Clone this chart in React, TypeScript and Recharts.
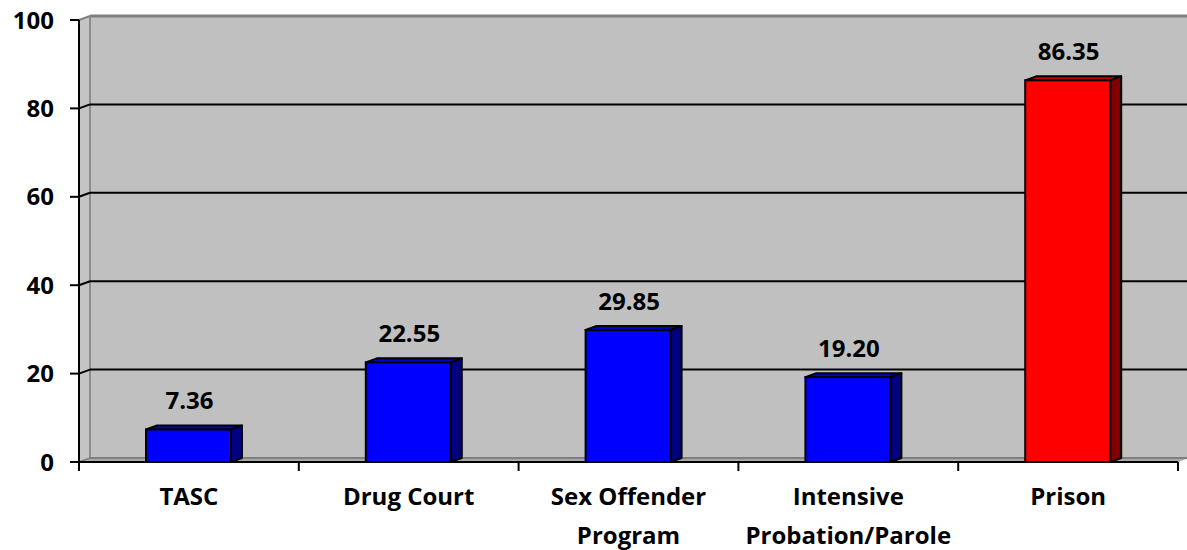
import React from 'react';
import { BarChart, Bar, XAxis, YAxis, CartesianGrid, LabelList } from 'recharts';

const categories = ['TASC', 'Drug Court', 'Sex Offender\nProgram', 'Intensive\nProbation/Parole', 'Prison'];
const values = [7.36, 22.55, 29.85, 19.2, 86.35];
const yTicks = [0, 20, 40, 60, 80, 100];

const frontColors = ['#0000FF', '#0000FF', '#0000FF', '#0000FF', '#FF0000'];
const sideColors = ['#000080', '#000080', '#000080', '#000080', '#800000'];
const topColors = ['#0000C8', '#0000C8', '#0000C8', '#0000C8', '#C00000'];

const data = categories.map((name, i) => ({ name, value: values[i] }));

const DX = 11;
const DY = 4;
const FONT = '"Open Sans", Lato, "Liberation Sans", sans-serif';
const FS = 24;

const Bar3D = (p: any) => {
  const { x, y, width: w, height: h, index } = p;
  const i = index ?? 0;
  return (
    <g>
      <polygon
        points={`${x},${y} ${x + DX},${y - DY} ${x + w + DX},${y - DY} ${x + w},${y}`}
        fill={topColors[i]}
        stroke="#000"
        strokeWidth={2}
        strokeLinejoin="round"
      />
      <polygon
        points={`${x + w},${y} ${x + w + DX},${y - DY} ${x + w + DX},${y + h - DY} ${x + w},${y + h}`}
        fill={sideColors[i]}
        stroke="#000"
        strokeWidth={2}
        strokeLinejoin="round"
      />
      <rect x={x} y={y} width={w} height={h} fill={frontColors[i]} stroke="#000" strokeWidth={2} />
    </g>
  );
};

const WallShape = (p: any) => {
  const { x1, y1, x2, index } = p;
  const top = p.y;
  const bottom = p.y + p.height;
  const isFirst = top !== undefined ? Math.abs(y1 - top) < 0.5 : index === 0;
  if (!isFirst) return <g key={p.key} />;
  const t = top ?? y1;
  const b = bottom ?? y1 + 442;
  return (
    <g key={p.key}>
      <rect x={x1 + DX} y={t - DY} width={x2 - x1 + 2} height={b - t} fill="#C0C0C0" />
      <polygon points={`${x1},${t} ${x1 + DX},${t - DY} ${x1 + DX},${b - DY} ${x1},${b}`} fill="#C4C4C4" />
      <line x1={x1 + DX} y1={t - DY} x2={x1 + DX} y2={b - DY} stroke="#8C8C8C" strokeWidth={2} />
    </g>
  );
};

const GridShape = (p: any) => {
  const { x1, y1, x2 } = p;
  const top = p.y;
  const bottom = p.y + p.height;
  if (Math.abs(y1 - bottom) < 0.5) {
    return (
      <g key={p.key}>
        <polygon points={`${x1},${y1} ${x1 + DX},${y1 - DY} ${x2 + DX},${y1 - DY} ${x2},${y1}`} fill="#A8A8A8" />
        <line x1={x1 + DX} y1={y1 - DY} x2={x2 + DX} y2={y1 - DY} stroke="#808080" strokeWidth={2} />
        <line x1={x1} y1={y1} x2={x1 + DX} y2={y1 - DY} stroke="#808080" strokeWidth={1.5} />
      </g>
    );
  }
  if (Math.abs(y1 - top) < 0.5) {
    return (
      <g key={p.key}>
        <line x1={x1 + DX} y1={y1 - DY} x2={x2 + DX} y2={y1 - DY} stroke="#808080" strokeWidth={3} />
        <line x1={x1} y1={y1} x2={x1 + DX} y2={y1 - DY} stroke="#808080" strokeWidth={2} />
      </g>
    );
  }
  return (
    <g key={p.key}>
      <line x1={x1 + DX} y1={y1 - DY} x2={x2 + DX} y2={y1 - DY} stroke="#000" strokeWidth={2} />
      <line x1={x1} y1={y1} x2={x1 + DX} y2={y1 - DY} stroke="#000" strokeWidth={2} />
    </g>
  );
};

const XTick = (p: any) => {
  const { x, y, payload, width } = p;
  const n = categories.length;
  const half = payload && payload.offset ? payload.offset : width / n / 2;
  const idx = payload.index ?? categories.indexOf(payload.value);
  const lines = String(payload.value).split('\n');
  return (
    <g>
      <line x1={x - half} y1={y} x2={x - half} y2={y + 9} stroke="#000" strokeWidth={2} />
      {idx === n - 1 && <line x1={x + half} y1={y} x2={x + half} y2={y + 9} stroke="#000" strokeWidth={2} />}
      <text x={x} y={y + 43} textAnchor="middle" fontFamily={FONT} fontSize={FS} fontWeight="bold" fill="#000">
        {lines.map((l, i) => (
          <tspan key={i} x={x} dy={i === 0 ? 0 : 39}>
            {l}
          </tspan>
        ))}
      </text>
    </g>
  );
};

const ValueLabel = (p: any) => {
  const { x, y, width, value } = p;
  return (
    <text
      x={x + width / 2 + 1}
      y={y - 20}
      textAnchor="middle"
      fontFamily={FONT}
      fontSize={FS}
      fontWeight="bold"
      fill="#000"
    >
      {Number(value).toFixed(2)}
    </text>
  );
};

export default function App() {
  return (
    <div style={{ position: 'absolute', left: 0, top: 0, width: 1187, height: 550, background: '#fff' }}>
      <BarChart
        width={1187}
        height={550}
        data={data}
        margin={{ top: 20, right: 9, bottom: 0, left: 0 }}
        barSize={85}
      >
        <CartesianGrid vertical={false} horizontal={WallShape} />
        <CartesianGrid vertical={false} horizontal={GridShape} />
        <XAxis
          dataKey="name"
          height={88}
          interval={0}
          tickLine={false}
          tickSize={0}
          tickMargin={0}
          axisLine={{ stroke: '#000', strokeWidth: 2 }}
          tick={<XTick />}
        />
        <YAxis
          width={79}
          domain={[0, 100]}
          ticks={yTicks}
          interval={0}
          tickSize={9}
          tickMargin={16}
          axisLine={{ stroke: '#000', strokeWidth: 2 }}
          tickLine={{ stroke: '#000', strokeWidth: 2 }}
          tick={{ fill: '#000', fontFamily: FONT, fontSize: FS, fontWeight: 'bold' }}
        />
        <Bar dataKey="value" isAnimationActive={false} shape={<Bar3D />}>
          <LabelList dataKey="value" content={<ValueLabel />} />
        </Bar>
      </BarChart>
    </div>
  );
}
